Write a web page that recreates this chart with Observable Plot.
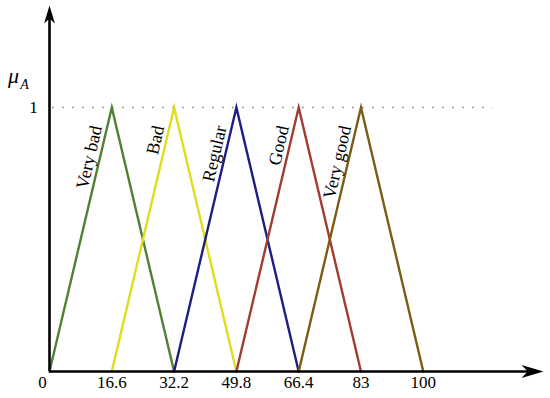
<!DOCTYPE html>
<html>
<head>
<meta charset="utf-8">
<script src="https://cdn.jsdelivr.net/npm/d3@7"></script>
<script src="https://cdn.jsdelivr.net/npm/@observablehq/plot@0.6"></script>
<style>
  html, body { margin: 0; padding: 0; background: #fff; }
  svg { display: block; }
</style>
</head>
<body>
<div id="chart"></div>
<script>
// ---- data ----
const tickLabels = [0, 16.6, 32.2, 49.8, 66.4, 83, 100];
const categories = ["Very bad", "Bad", "Regular", "Good", "Very good"];
const lefts  = [0, 16.6, 32.2, 49.8, 66.4];
const peaks  = [16.6, 32.2, 49.8, 66.4, 83];
const rights = [32.2, 49.8, 66.4, 83, 100];
const membership = [0, 1, 0];
const colors = ["#4f8232", "#e0dc1e", "#1e1e82", "#a03c32", "#7c5c14"];

// the picture spaces the break points evenly
const pos = v => tickLabels.indexOf(v);

const rows = [];
categories.forEach((c, i) => {
  [lefts[i], peaks[i], rights[i]].forEach((v, k) => rows.push({cat: c, x: pos(v), y: membership[k]}));
});
const labels = categories.map((c, i) => ({
  cat: c,
  x: pos(lefts[i]) + 0.93 * (pos(peaks[i]) - pos(lefts[i])),
  y: 0.93
}));

const xMax = 7.93, yMax = 1.386;
const serif = "'Liberation Serif', 'DejaVu Serif', serif";

const arrowHead = {
  draw(ctx, size) {
    const s = Math.sqrt(size / Math.PI);
    ctx.moveTo(0, 0);
    ctx.lineTo(0.3 * s, s);
    ctx.lineTo(0, 0.72 * s);
    ctx.lineTo(-0.3 * s, s);
    ctx.closePath();
  }
};

const chart = Plot.plot({
  width: 550,
  height: 398,
  marginLeft: 49,
  marginRight: 7,
  marginTop: 5,
  marginBottom: 27,
  style: {background: "#fff", fontFamily: serif},
  x: {domain: [0, xMax], axis: null},
  y: {domain: [0, yMax], axis: null},
  color: {domain: categories, range: colors},
  marks: [
    // dotted level at 1
    Plot.ruleY([1], {x1: 0.05, x2: 7.12, stroke: "#8a8a8a", strokeWidth: 1.6, strokeDasharray: "1.6 8.4"}),
    // triangles
    Plot.line(rows, {x: "x", y: "y", z: "cat", stroke: "cat", strokeWidth: 2.4, strokeLinejoin: "miter", strokeMiterlimit: 20}),
    // axes
    Plot.ruleY([0], {x1: 0, x2: xMax - 0.15, stroke: "#000", strokeWidth: 2.6}),
    Plot.ruleX([0], {y1: 0, y2: yMax - 0.03, stroke: "#000", strokeWidth: 2.6}),
    Plot.dot([{x: xMax, y: 0}], {x: "x", y: "y", symbol: arrowHead, r: 22, rotate: 90, fill: "#000", stroke: "none"}),
    Plot.dot([{x: 0, y: yMax}], {x: "x", y: "y", symbol: arrowHead, r: 18, fill: "#000", stroke: "none"}),
    // category labels
    Plot.text(labels, {x: "x", y: "y", text: "cat", rotate: -77, textAnchor: "end", dx: -11, fontSize: 18, fill: "#000"}),
    // tick labels
    Plot.text(tickLabels.slice(1), {x: d => pos(d), y: 0, text: d => String(d), dy: 11, fontSize: 17, fill: "#000"}),
    Plot.text([tickLabels[0]], {x: d => pos(d), y: 0, text: d => String(d), dy: 11, dx: -7, fontSize: 17, fill: "#000"}),
    Plot.text([1], {x: 0, y: d => d, text: d => String(d), dx: -16, fontSize: 17, fill: "#000"}),
    // y label mu_A
    Plot.text(["μ"], {x: 0, y: 1.121, text: d => d, dx: -36, fontSize: 22, fontStyle: "italic", fill: "#000"}),
    Plot.text(["A"], {x: 0, y: 1.085, text: d => d, dx: -25, fontSize: 14, fontStyle: "italic", fill: "#000"})
  ]
});
document.getElementById("chart").appendChild(chart);
</script>
</body>
</html>
